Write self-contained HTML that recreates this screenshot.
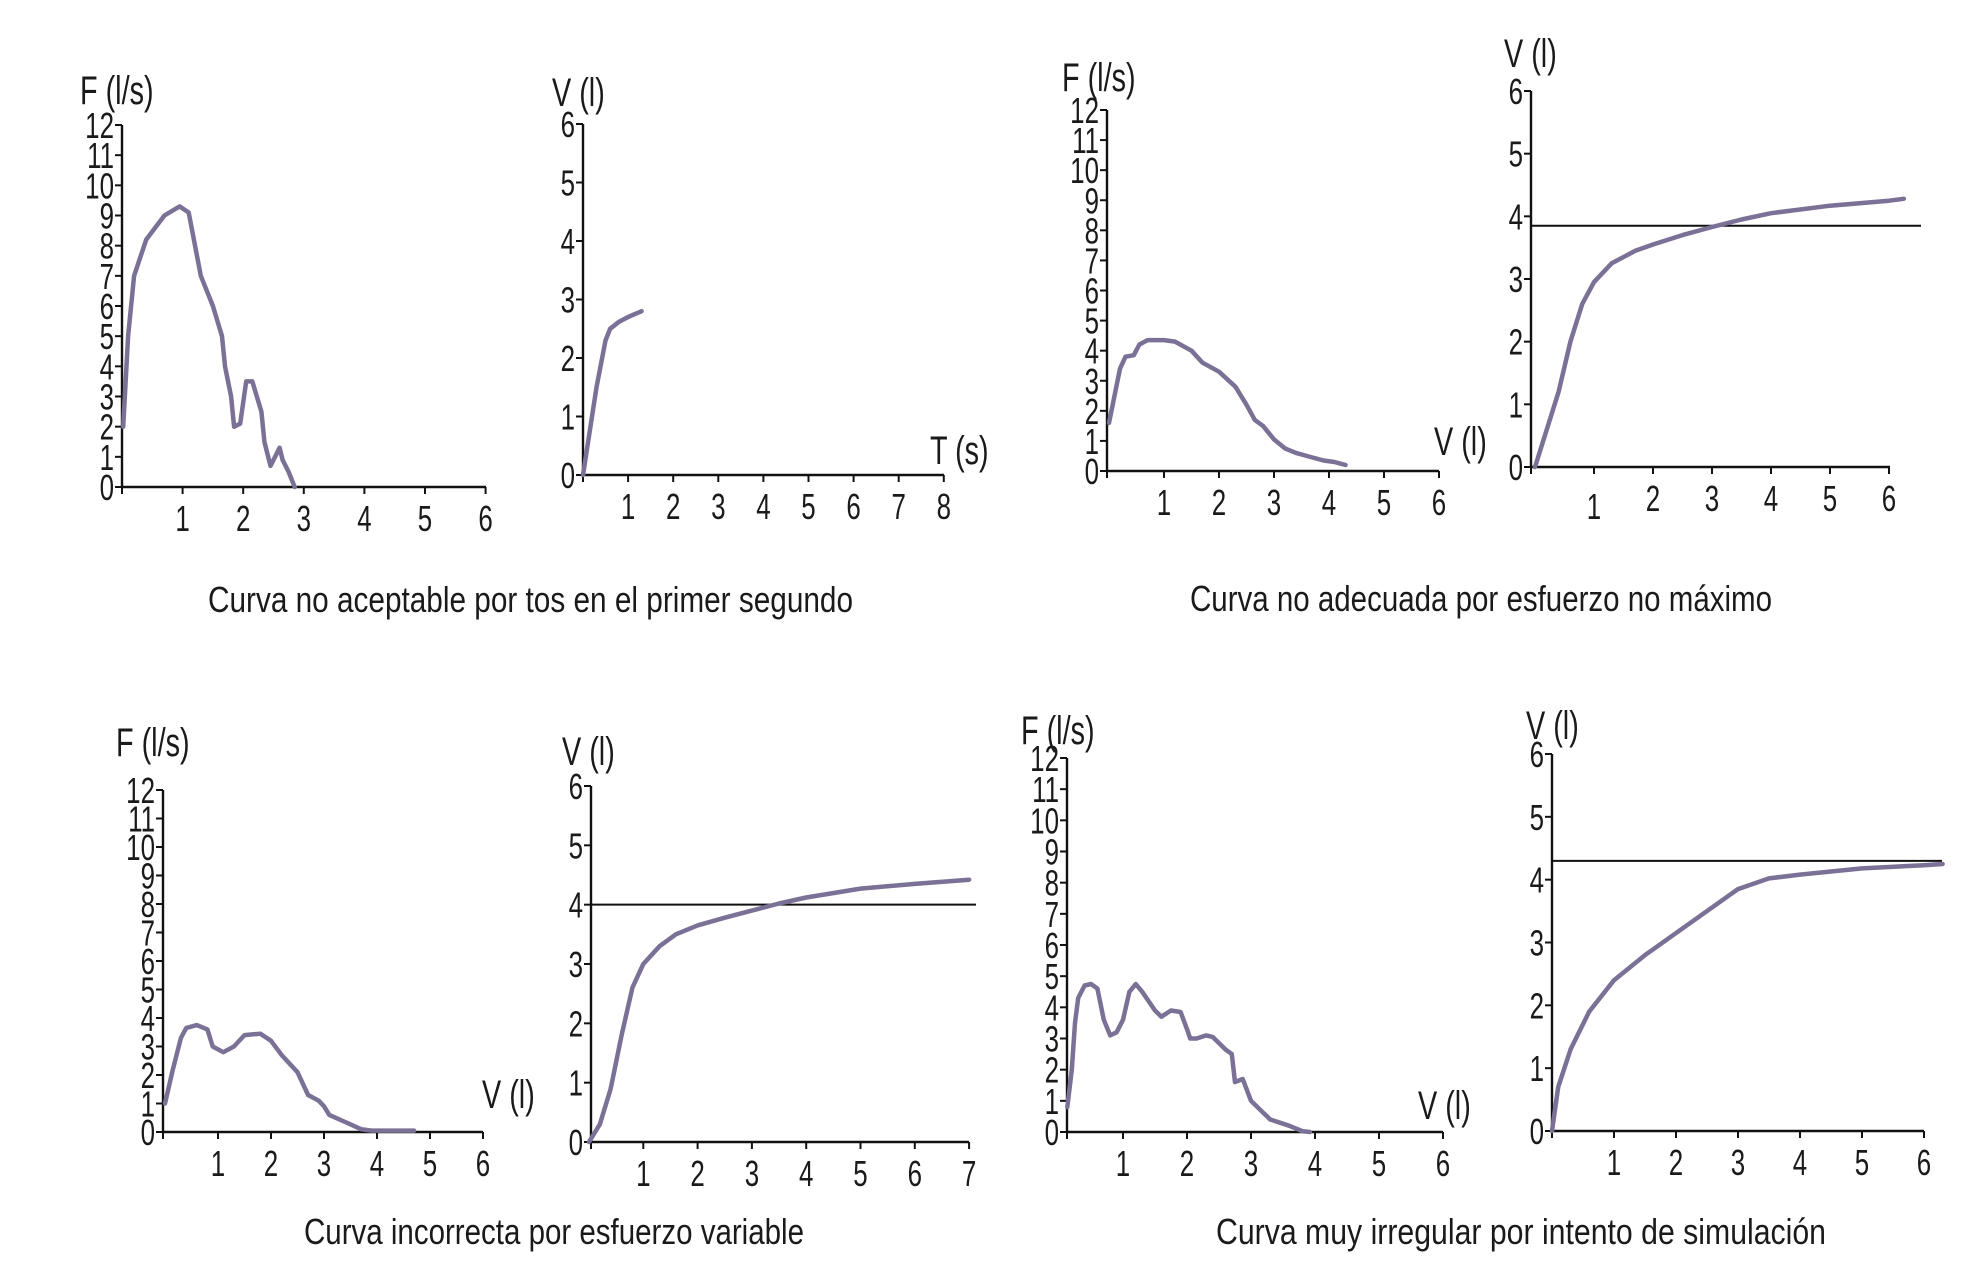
<!DOCTYPE html>
<html><head><meta charset="utf-8"><style>
html,body{margin:0;padding:0;background:#fff;}
svg{display:block;}
text{font-family:"Liberation Sans Narrow","Liberation Sans",sans-serif;fill:#1a1a1a;}
</style></head>
<body>
<svg id="fig" xmlns="http://www.w3.org/2000/svg" width="1979" height="1279" viewBox="0 0 1979 1279">
<rect width="1979" height="1279" fill="#fff"/>
<text x="208" y="612" font-size="36" textLength="645" lengthAdjust="spacingAndGlyphs">Curva no aceptable por tos en el primer segundo</text>
<text x="1190" y="611" font-size="36" textLength="582" lengthAdjust="spacingAndGlyphs">Curva no adecuada por esfuerzo no máximo</text>
<text x="304" y="1244" font-size="36" textLength="500" lengthAdjust="spacingAndGlyphs">Curva incorrecta por esfuerzo variable</text>
<text x="1216" y="1244" font-size="36" textLength="610" lengthAdjust="spacingAndGlyphs">Curva muy irregular por intento de simulación</text>
</svg>
<script>
// Panel A: flow-volume, cough
const aVol  = [0.02,0.1,0.2,0.4,0.7,0.95,1.1,1.3,1.5,1.65,1.7,1.8,1.85,1.95,2.05,2.15,2.3,2.35,2.45,2.6,2.65,2.75,2.85];
const aFlow = [2,5,7,8.2,9,9.3,9.1,7,6,5,4,3,2,2.1,3.5,3.5,2.5,1.5,0.7,1.3,0.9,0.5,0];
// Panel B: volume-time, cough
const bTime = [0,0.1,0.3,0.5,0.6,0.8,1.0,1.3];
const bVol  = [0,0.5,1.5,2.3,2.5,2.62,2.7,2.8];
// Panel C: flow-volume, submaximal
const cVol  = [0.0,0.1,0.2,0.3,0.45,0.55,0.7,1.0,1.2,1.5,1.7,2.0,2.3,2.5,2.65,2.8,3.0,3.2,3.4,3.6,3.9,4.1,4.3];
const cFlow = [1.6,2.5,3.4,3.8,3.85,4.2,4.35,4.35,4.3,4.0,3.6,3.3,2.8,2.2,1.7,1.5,1.05,0.75,0.6,0.5,0.35,0.3,0.2];
// Panel D: volume-time, submaximal
const dTime = [0,0.2,0.4,0.6,0.8,1,1.3,1.7,2,2.5,3,3.5,4,5,6,6.25];
const dVol  = [0,0.6,1.2,2.0,2.6,2.95,3.25,3.45,3.55,3.7,3.83,3.95,4.05,4.17,4.25,4.28];
const dRef  = 3.85;
// Panel E: flow-volume, variable effort
const eVol  = [0.0,0.15,0.3,0.4,0.6,0.8,0.9,1.1,1.3,1.5,1.8,2.0,2.2,2.5,2.7,2.9,3.0,3.1,3.4,3.7,3.9,4.7];
const eFlow = [1,2.2,3.3,3.65,3.75,3.6,3.0,2.8,3.0,3.4,3.45,3.2,2.7,2.1,1.3,1.1,0.9,0.6,0.35,0.1,0.05,0.05];
// Panel F: volume-time, variable effort
const fTime = [0,0.2,0.4,0.6,0.8,1,1.3,1.6,2,2.5,3,3.5,4,5,6,7];
const fVol  = [0,0.3,0.9,1.8,2.6,3.0,3.3,3.5,3.65,3.78,3.9,4.02,4.12,4.27,4.35,4.42];
const fRef  = 4.0;
// Panel G: flow-volume, simulation
const gVol  = [0.13,0.2,0.25,0.3,0.4,0.5,0.6,0.7,0.8,0.9,1.0,1.1,1.2,1.3,1.5,1.6,1.75,1.9,2.0,2.05,2.15,2.3,2.4,2.6,2.7,2.75,2.87,3.0,3.3,3.6,3.8,3.92];
const gFlow = [0.8,2,3.5,4.3,4.7,4.75,4.6,3.6,3.1,3.2,3.6,4.5,4.75,4.5,3.9,3.7,3.9,3.85,3.3,3.0,3.0,3.1,3.05,2.65,2.5,1.6,1.7,1.0,0.4,0.2,0.03,0];
// Panel H: volume-time, simulation
const hTime = [0,0.1,0.3,0.6,1,1.5,2,2.5,3,3.5,4,5,6,6.3];
const hVol  = [0,0.7,1.3,1.9,2.4,2.8,3.15,3.5,3.85,4.02,4.08,4.18,4.23,4.25];
const hRef  = 4.3;

const NS = "http://www.w3.org/2000/svg";
const svg = document.getElementById("fig");
const SX = 0.72;
function mk(tag, attrs, parent){const e=document.createElementNS(NS,tag);for(const k in attrs)e.setAttribute(k,attrs[k]);(parent||svg).appendChild(e);return e;}
function txt(parent, x, y, size, anchor, s){
  const t = mk("text",{x:0,y:0,"font-size":size,"text-anchor":anchor,transform:"translate("+x+","+y+") scale("+SX+",1)"},parent);
  t.textContent = s;
  return t;
}

function panel(p, xs, ys, ref){
  const g = mk("g",{});
  
  
  const sx = v => p.x0 + p.ux*v;
  const sy = v => p.y0 - (p.y0 - p.yTop)/p.yMax*v;
  const yax = mk("line",{x1:p.ax,y1:p.yTop,x2:p.ax,y2:p.y0,stroke:"#111","stroke-width":2.4},g);
  
  
  const xax = mk("line",{x1:p.ax,y1:p.y0,x2:p.xEnd,y2:p.y0,stroke:"#111","stroke-width":2.4},g);
  
  
  for(let v=0; v<=p.yMax; v++){
    const y = sy(v);
    mk("line",{x1:p.ax-7,y1:y,x2:p.ax,y2:y,stroke:"#111","stroke-width":2},g);
    const t = txt(g, p.ax-8, y+13, 36, "end", String(v));
    
    
  }
  mk("line",{x1:p.ax,y1:p.y0,x2:p.ax,y2:p.y0+7,stroke:"#111","stroke-width":2},g);
  for(let v=1; v<=p.xMax; v++){
    const x = sx(v);
    mk("line",{x1:x,y1:p.y0,x2:x,y2:p.y0+7,stroke:"#111","stroke-width":2},g);
    const t = txt(g, x, p.y0+44+((p.oneDrop&&v===1)?8:0), 36, "middle", String(v));
    
    
  }
  if(ref!==undefined){
    const r = mk("line",{x1:p.ax,y1:sy(ref),x2:p.refEnd,y2:sy(ref),stroke:"#111","stroke-width":2},g);
    
    
  }
  const pts = xs.map((v,i)=>sx(v).toFixed(1)+","+sy(ys[i]).toFixed(1)).join(" ");
  const c = mk("polyline",{points:pts,fill:"none",stroke:"#7b7095","stroke-width":4.5,"stroke-linejoin":"round","stroke-linecap":"round"},g);
  
  
  const yt = txt(g, p.ytx, p.yty, 40, "start", p.ytitle);
  
  
  if(p.xtitle){
    const xt = txt(g, p.xtx, p.xty, 40, "start", p.xtitle);
    
    
  }
}

panel({name:"panel-cough-flow",ax:122,x0:122,ux:60.6,xMax:6,xEnd:486,y0:487,yTop:125,yMax:12,ytitle:"F (l/s)",ytx:80,yty:104},aVol,aFlow);
panel({name:"panel-cough-volume",ax:583,x0:583,ux:45.1,xMax:8,xEnd:944,y0:475,yTop:124,yMax:6,ytitle:"V (l)",ytx:552,yty:106},bTime,bVol);
panel({name:"panel-submax-flow",ax:1107,x0:1109,ux:55,xMax:6,xEnd:1439,y0:471,yTop:110,yMax:12,ytitle:"F (l/s)",ytx:1062,yty:91,xtitle:"V (l)",xtx:1434,xty:455},cVol,cFlow);
panel({name:"panel-submax-volume",ax:1531,x0:1535,ux:59,xMax:6,xEnd:1890,y0:467,yTop:91,yMax:6,ytitle:"V (l)",ytx:1504,yty:67,refEnd:1921,oneDrop:true},dTime,dVol,dRef);
panel({name:"panel-variable-flow",ax:163,x0:165,ux:53,xMax:6,xEnd:483,y0:1132,yTop:790,yMax:12,ytitle:"F (l/s)",ytx:116,yty:756},eVol,eFlow);
panel({name:"panel-variable-volume",ax:591,x0:589,ux:54.3,xMax:7,xEnd:969,y0:1142,yTop:786,yMax:6,ytitle:"V (l)",ytx:562,yty:765,refEnd:976},fTime,fVol,fRef);
panel({name:"panel-simulation-flow",ax:1067,x0:1059,ux:64,xMax:6,xEnd:1443,y0:1132,yTop:758,yMax:12,ytitle:"F (l/s)",ytx:1021,yty:744,xtitle:"V (l)",xtx:1418,xty:1119},gVol,gFlow);
panel({name:"panel-simulation-volume",ax:1552,x0:1552,ux:62,xMax:6,xEnd:1924,y0:1131,yTop:754,yMax:6,ytitle:"V (l)",ytx:1526,yty:739,refEnd:1942},hTime,hVol,hRef);

// extra axis titles not tied to panel helper
const t1 = txt(svg, 930, 464, 40, "start", "T (s)");


const t2 = txt(svg, 482, 1108, 40, "start", "V (l)");


</script>
</body></html>
